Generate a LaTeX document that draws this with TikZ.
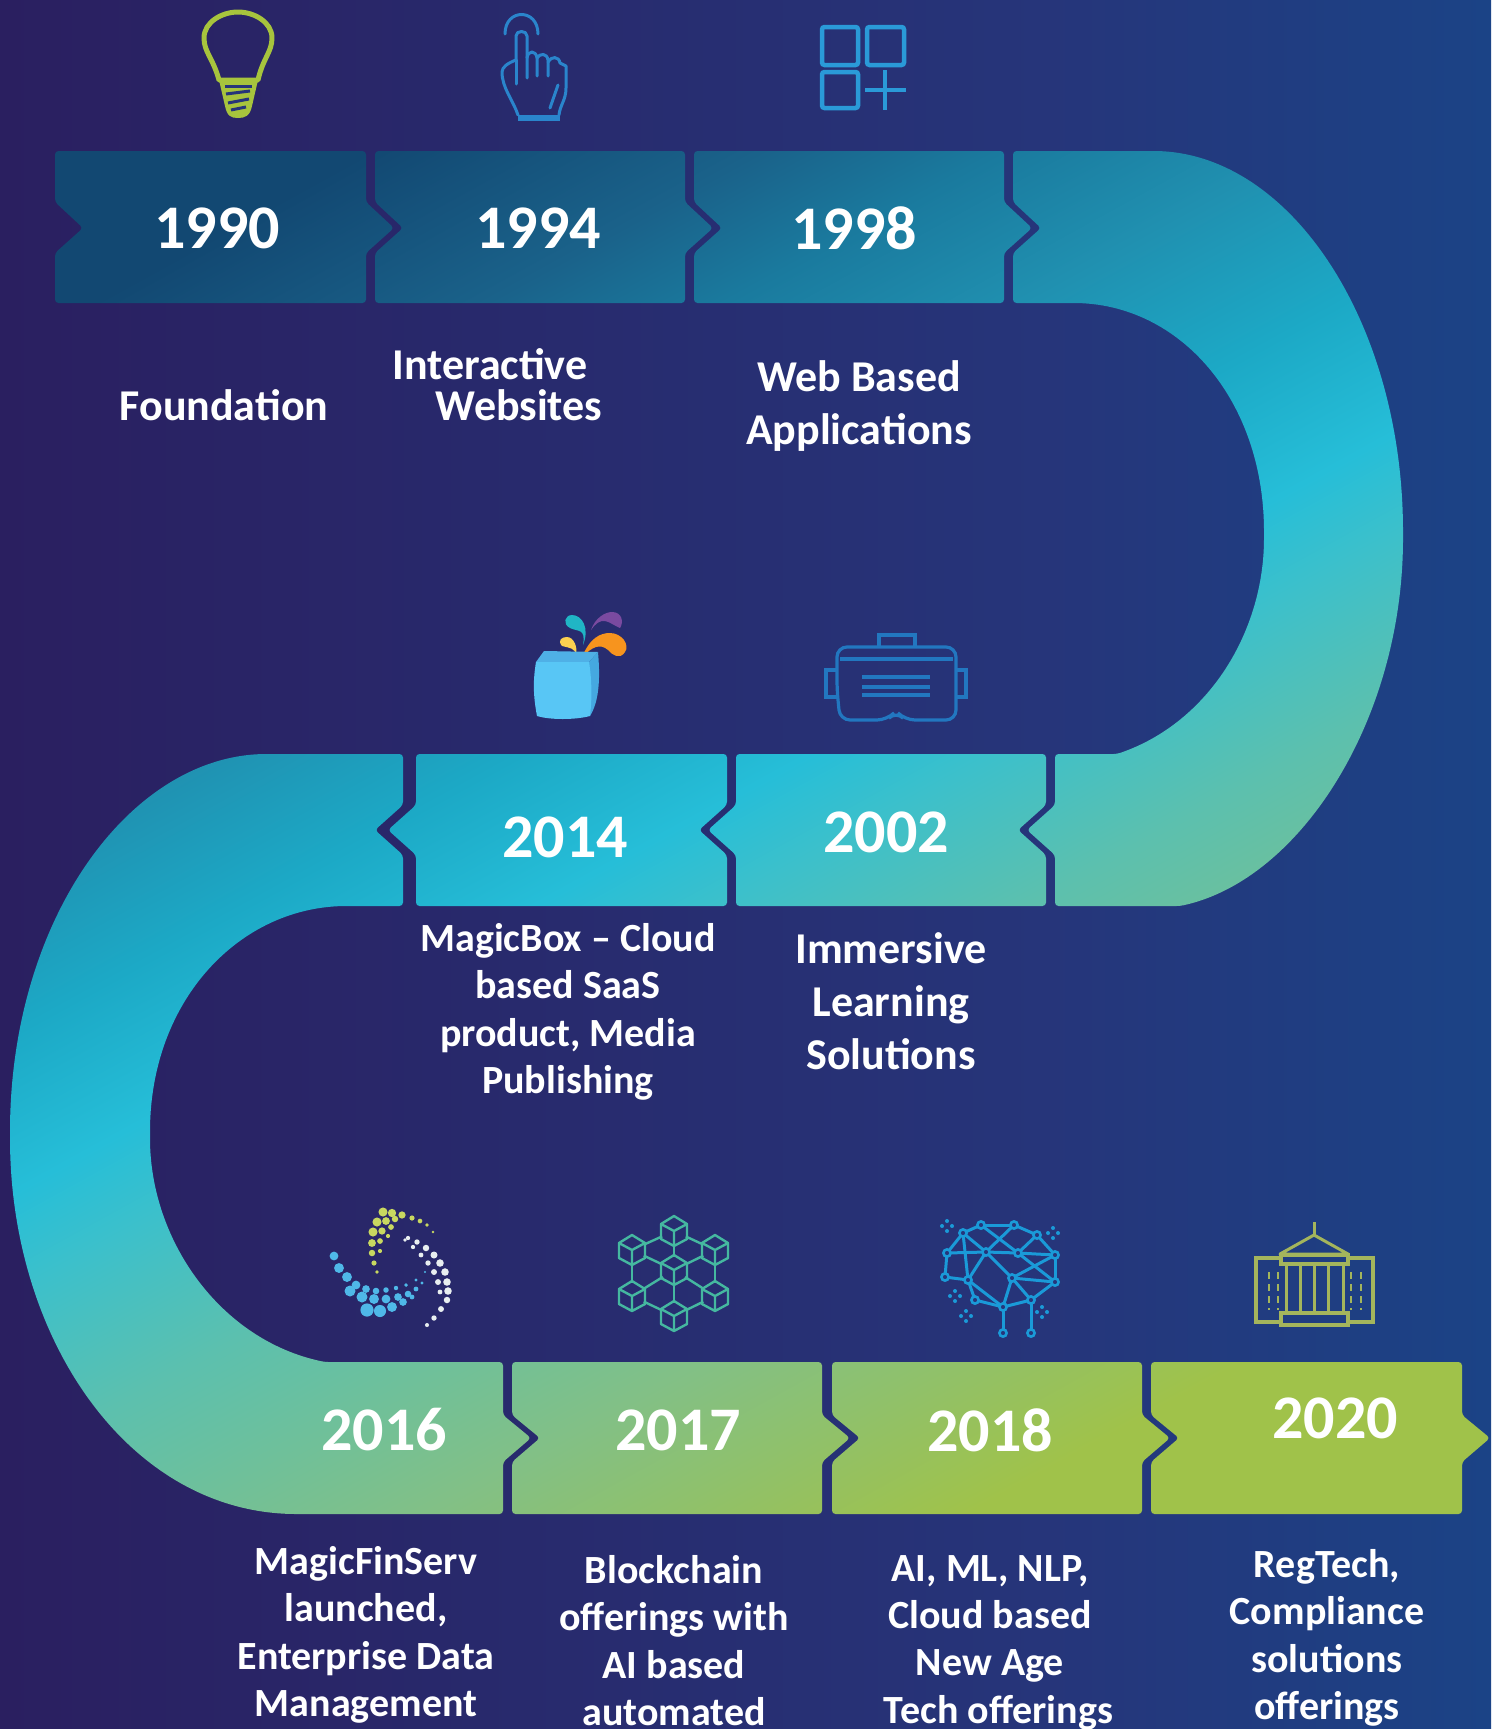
\documentclass[tikz,border=0pt]{standalone}
\usepackage{fontspec}
\setmainfont{Carlito}
\definecolor{bgl}{HTML}{2A1F60}
\definecolor{bgm}{HTML}{26357A}
\definecolor{bgr}{HTML}{1B4386}
\definecolor{g0}{HTML}{124872}
\definecolor{g1}{HTML}{1A628A}
\definecolor{g1b}{HTML}{1A7A9E}
\definecolor{g2}{HTML}{2090B0}
\definecolor{g3}{HTML}{1CA9C6}
\definecolor{g4}{HTML}{26BED8}
\definecolor{g5}{HTML}{3CC0CB}
\definecolor{g6}{HTML}{5CC0AE}
\definecolor{g7}{HTML}{82C086}
\definecolor{g8}{HTML}{A0C24A}
\pgfdeclarehorizontalshading{bgshade}{100bp}{color(0bp)=(bgl);color(25bp)=(bgl);color(60bp)=(bgm);color(75bp)=(bgr);color(100bp)=(bgr)}
\pgfdeclarehorizontalshading{serp}{100bp}{color(0bp)=(g0);color(37.33bp)=(g0);color(40.3bp)=(g1);color(42.1bp)=(g1b);color(44.32bp)=(g2);color(46.78bp)=(g3);color(48.97bp)=(g4);color(50.34bp)=(g5);color(52.67bp)=(g6);color(56.5bp)=(g7);color(60.6bp)=(g8);color(100bp)=(g8)}
\newcommand{\boxR}[2]{(#1,151) -- (#2,151) -- (#2,202) -- ({#2+28},228) -- (#2,253) -- (#2,303) -- (#1,303) -- (#1,253) -- ({#1+28},228) -- (#1,202) -- cycle}
\newcommand{\boxL}[2]{(#1,754) -- (#2,754) -- (#2,805) -- ({#2-28},830) -- (#2,855) -- (#2,906) -- (#1,906) -- (#1,855) -- ({#1-28},830) -- (#1,805) -- cycle}
\newcommand{\boxB}[2]{(#1,1362) -- (#2,1362) -- (#2,1415) -- ({#2+28},1438) -- (#2,1462) -- (#2,1514) -- (#1,1514) -- (#1,1462) -- ({#1+28},1438) -- (#1,1415) -- cycle}
\tikzset{
  year/.style={text=white,font=\fontsize{62}{62}\selectfont\bfseries,inner sep=0pt},
  desc/.style={text=white,font=\fontsize{40}{47.4}\selectfont\bfseries,inner sep=0pt,align=center},
  descbig/.style={text=white,font=\fontsize{44}{53}\selectfont\bfseries,inner sep=0pt,align=center},
  hand/.style={draw=handblue,line width=3pt,line join=round,line cap=round},
}
\definecolor{handblue}{HTML}{2A85CC}
\definecolor{gridblue}{HTML}{2A9AD8}
\definecolor{bulbg}{HTML}{A7C43D}
\definecolor{vrblue}{HTML}{2277C0}
\definecolor{teal1}{HTML}{45B8A0}
\definecolor{brain}{HTML}{1A9AD8}
\definecolor{olive}{HTML}{A4B55C}
\definecolor{bluedot}{HTML}{4FB8E8}
\definecolor{yeldot}{HTML}{C8D860}
\definecolor{whdot}{HTML}{E8EEF0}
\definecolor{boxfront}{HTML}{58C6F5}
\definecolor{boxtop}{HTML}{4FB0E6}
\definecolor{boxside}{HTML}{45A8E0}
\definecolor{spteal}{HTML}{20B5C5}
\definecolor{sppurple}{HTML}{7A4AA0}
\definecolor{sporange}{HTML}{F7941E}
\definecolor{spyellow}{HTML}{FBD050}
\begin{document}
\begin{tikzpicture}[x=1pt,y=-1pt]
\useasboundingbox (0,0) rectangle (1491,1729);
\clip (0,0) rectangle (1491,1729);
\shade[shading=bgshade] (0,0) rectangle (1491,1729);
% serpentine ribbon: one gradient through all segments
\begin{scope}
\path[clip,rounded corners=3.5pt]
  \boxR{55}{366} \boxR{375}{685} \boxR{694}{1004}
  (1013,151) -- (1150,151) .. controls (1290,151) and (1403,323) .. (1403,535)
    .. controls (1403,720) and (1300,880) .. (1180,906) -- (1055,906) -- (1055,855) -- (1027,830) -- (1055,805) -- (1055,754)
    -- (1117,754) .. controls (1210,722) and (1264,630) .. (1264,535)
    .. controls (1264,400) and (1180,303) .. (1070,303) -- (1013,303) -- (1013,253) -- (1041,228) -- (1013,202) -- cycle
  \boxL{736}{1046} \boxL{416}{727}
  (403,754) -- (270,754) .. controls (130,754) and (10,920) .. (10,1135)
    .. controls (10,1340) and (130,1514) .. (300,1514) -- (503,1514) -- (503,1462) -- (531,1438) -- (503,1415) -- (503,1362)
    -- (325,1362) .. controls (220,1340) and (150,1240) .. (150,1135)
    .. controls (150,1000) and (240,906) .. (350,906) -- (403,906) -- (403,855) -- (375,830) -- (403,805) -- cycle
  \boxB{512}{822} \boxB{832}{1142} \boxB{1151}{1462};
\shade[shading=serp,shading angle=-61.2] (-855,-735) rectangle (2345,2465);
\end{scope}
% years
\node[year] (y1990) at (217,228) {1990};
\node[year] (y1994) at (538,228) {1994};
\node[year] (y1998) at (854,228) {1998};
\node[year] (y2014) at (565,837) {2014};
\node[year] (y2002) at (886,832) {2002};
\node[year] (y2016) at (384,1430) {2016};
\node[year] (y2017) at (678,1430) {2017};
\node[year] (y2018) at (990,1430) {2018};
\node[year] (y2020) at (1335,1418) {2020};
% descriptions
\node[descbig] (tfound) at (224,405) {Foundation};
\node[descbig] (tinter) at (490,364) {Interactive};
\node[descbig] (tweb) at (519,405) {Websites};
\node[descbig] (tapps) at (859,406) {Web Based\\Applications};
\node[desc] (tmagic) at (568,1012) {MagicBox – Cloud\\based SaaS\\product, Media\\Publishing};
\node[descbig] (timm) at (891,1001) {Immersive\\Learning\\Solutions};
\node[desc,anchor=north] (tfin) at (366,1546) {MagicFinServ\\launched,\\Enterprise Data\\Management};
\node[desc,anchor=north] (tblock) at (674,1555) {Blockchain\\offerings with\\AI based\\automated};
\node[desc,anchor=north] (tai) at (990,1555) {AI, ML, NLP,\\Cloud based\\New Age\\\hspace*{17pt}Tech offerings};
\node[desc,anchor=north] (treg) at (1327,1549) {RegTech,\\Compliance\\solutions\\offerings};
% bulb
\draw[bulbg,line width=5pt,line join=round] (219,80) .. controls (213,58) and (204,52) .. (204,38) .. controls (204,22) and (222,12) .. (238,12) .. controls (254,12) and (272,22) .. (272,38) .. controls (272,52) and (263,58) .. (258,80) -- cycle;
\fill[bulbg] (219,80) -- (258,80) -- (252,106) .. controls (250,116) and (245,118) .. (238,118) .. controls (231,118) and (227,116) .. (225,106) -- cycle;
\foreach \ya/\yb/\xa/\xb in {86/86/225/252,94/91/226/250,103/99/228/249,110/107/231/246}
  \draw[line width=3pt,draw=bgm] (\xa,\ya) -- (\xb,\yb);
% hand
\draw[hand] (518,115) .. controls (513,100) and (502,88) .. (502,72) .. controls (502,67) and (508,63) .. (516,60) -- (516,36) .. controls (516,30) and (527,30) .. (527,36) -- (527,78);
\draw[hand] (527,58) .. controls (528,50) and (536,50) .. (537,58) -- (537,76);
\draw[hand] (537,58) .. controls (540,53) and (547,53) .. (548,60) -- (548,76);
\draw[hand] (548,62) .. controls (551,56) and (559,56) .. (560,63) -- (566,66) -- (566,88) .. controls (566,100) and (560,105) .. (559,115);
\draw[hand] (516,60) -- (516,84);
\draw[hand] (558,85) -- (550,108);
\fill[handblue] (518,115) rectangle (560,121);
\draw[hand] (505,34) .. controls (505,8) and (538,8) .. (538,34);
% grid
\foreach \xa/\ya/\xb/\yb in {822/27/858/65,867/27/904/65,822/72/858/108}
  \draw[gridblue,line width=4.5pt,rounded corners=2.5pt] (\xa,\ya) rectangle (\xb,\yb);
\draw[gridblue,line width=3.5pt] (885,70) -- (885,110);
\draw[gridblue,line width=4.5pt] (865,90) -- (906,90);
% magic box
\fill[spteal] (583,645) .. controls (586,628) and (578,632) .. (570,628) .. controls (562,624) and (565,615) .. (572,615) .. controls (582,615) and (590,628) .. (583,645) -- cycle;
\fill[sppurple] (591,630) .. controls (595,618) and (605,612) .. (612,612) .. controls (622,612) and (624,622) .. (620,628) .. controls (615,626) and (610,622) .. (605,621) .. controls (600,620) and (595,624) .. (591,630) -- cycle;
\fill[sporange] (582,657) .. controls (590,638) and (600,633) .. (610,633) .. controls (622,633) and (630,645) .. (625,652) .. controls (620,660) and (612,655) .. (608,650) .. controls (600,643) and (592,647) .. (582,657) -- cycle;
\fill[spyellow] (576,655) .. controls (575,648) and (570,648) .. (562,646) .. controls (557,640) and (562,637) .. (567,637) .. controls (574,637) and (578,648) .. (576,655) -- cycle;
\fill[boxtop] (544,651) -- (598,652) -- (589,662) -- (536,662) -- cycle;
\fill[boxside] (589,662) -- (598,652) .. controls (600,675) and (600,700) .. (590,716) -- cycle;
\fill[boxfront] (536,662) -- (589,662) .. controls (592,680) and (592,700) .. (590,716) .. controls (575,720) and (550,720) .. (537,716) .. controls (533,695) and (533,680) .. (536,662) -- cycle;
% VR headset
\begin{scope}[vrblue,line width=3.2pt]
\draw (879,647) -- (879,635) -- (915,635) -- (915,647);
\draw[rounded corners=10pt] (840,720) -- (837,690) -- (837,647) -- (956,647) -- (956,720) -- (905,720) -- (896,711) -- (887,720) -- cycle;
\draw (840,659) -- (953,659);
\draw (837,670) -- (826,670) -- (826,697) -- (837,697);
\draw (956,670) -- (966,670) -- (966,697) -- (956,697);
\draw[line width=3.5pt] (862,677) -- (930,677);
\draw[line width=3.5pt] (862,687) -- (930,687);
\draw[line width=4pt] (862,695) -- (930,695);
\end{scope}
% spiral of dots
\foreach \x/\y/\r in {383/1212/3.5,377/1222/3.5,373/1232/3.5,372/1243/3,372/1253/2.5,374/1263/2,377/1272/1.5,392/1213/3.2,386/1221/3,382/1231/2.8,380/1241/2.2,380/1251/1.6,402/1215/2.8,395/1219/2.5,391/1227/2.2,388/1236/1.6,412/1218/2,420/1221/1.8,427/1225/1.4,433/1232/1}
  \fill[yeldot] (\x,\y) circle ({1.3*\r});
\foreach \x/\y/\r in {408/1238/1.6,417/1242/2,426/1248/2.4,434/1255/2.6,440/1263/2.8,445/1272/2.8,447/1282/2.8,448/1291/2.8,447/1300/2.4,441/1309/2.2,434/1318/2,427/1325/1.5,405/1240/1.4,413/1247/1.6,421/1255/1.8,428/1263/2,434/1272/2.2,438/1282/2.2,440/1292/1.8}
  \fill[whdot] (\x,\y) circle ({1.35*\r});
\foreach \x/\y/\r in {334/1256/4,339/1268/4.5,347/1277/4.5,356/1285/4,366/1289/3.5,376/1291/3,386/1290/2.5,396/1288/2,406/1285/1.8,416/1280/1.4,425/1272/1,350/1291/5,362/1297/5,374/1299/4.5,386/1299/4,398/1297/3.5,408/1294/3,416/1289/2.2,422/1283/1.5,367/1310/6,380/1311/5.5,392/1307/4.5,403/1302/3.5,412/1297/2.2}
  \fill[bluedot] (\x,\y) circle ({1.1*\r});
% blockchain
\foreach \n/\x/\y in {T/674/1231,UL/632/1250,UR/715/1250,C/674/1270,LL/632/1296,LR/715/1296,B/674/1316}
  \coordinate (c\n) at (\x,\y);
\foreach \a/\b in {T/C,T/UL,T/UR,UL/LL,UR/LR,LL/B,LR/B,C/UL,C/UR,C/LL,C/LR,C/B}
  \draw[teal1,line width=2.4pt,shorten >=13pt,shorten <=13pt] (c\a) -- (c\b);
\foreach \n in {T,UL,UR,C,LL,LR,B}
  \draw[teal1,line width=2.4pt,line join=round,shift={(c\n)}] (0,-15) -- (13,-7) -- (13,8) -- (0,15) -- (-13,8) -- (-13,-7) -- cycle (-13,-7) -- (0,0) -- (13,-7) (0,0) -- (0,15);
% neural brain
\foreach \n/\x/\y in {1/981/1225,2/1014/1225,3/963/1233,4/1037/1235,5/947/1253,6/986/1252,7/1018/1253,8/1055/1255,9/945/1277,10/968/1280,11/1012/1278,12/1055/1282,13/975/1300,14/1003/1307,15/1031/1300,16/1003/1333,17/1031/1333}
  \coordinate (n\n) at (\x,\y);
\foreach \a/\b in {1/2,1/3,2/4,3/5,4/8,5/9,8/12,3/6,1/7,2/6,6/7,7/4,5/6,6/10,6/11,7/8,7/12,8/11,9/10,10/13,10/14,11/12,11/14,13/14,12/15,15/14,14/16,15/17,3/10,11/15}
  \draw[brain,line width=3pt] (n\a) -- (n\b);
\foreach \n in {1,...,17}
  \filldraw[draw=brain,fill=bgm,line width=2.6pt] (n\n) circle (3.6);
\foreach \x/\y in {947/1226,1053/1233,955/1296,966/1316,1042/1312}
  \foreach \dx/\dy in {0/-5,5/0,0/5,-5/0}
    \fill[brain] ({\x+\dx},{\y+\dy}) circle (2);
% building
\begin{scope}[olive]
\draw[line width=3pt] (1314,1222) -- (1314,1236);
\draw[line width=3pt,line join=round] (1314,1235) -- (1348,1254) -- (1280,1254) -- cycle;
\draw[line width=3.5pt] (1281,1255) rectangle (1348,1264);
\draw[line width=3.5pt] (1281,1313) rectangle (1348,1325);
\draw[line width=3.5pt] (1281,1258) -- (1256,1258) -- (1256,1322) -- (1281,1322);
\draw[line width=3.5pt] (1348,1258) -- (1373,1258) -- (1373,1322) -- (1348,1322);
\foreach \x in {1286,1300,1314,1328,1343}
  \draw[line width=3pt] (\x,1264) -- (\x,1313);
\foreach \x in {1269,1278,1351,1361}
  \draw[line width=1.2pt,dash pattern=on 7pt off 5pt] (\x,1272) -- (\x,1310);
\end{scope}
\end{tikzpicture}
\end{document}
